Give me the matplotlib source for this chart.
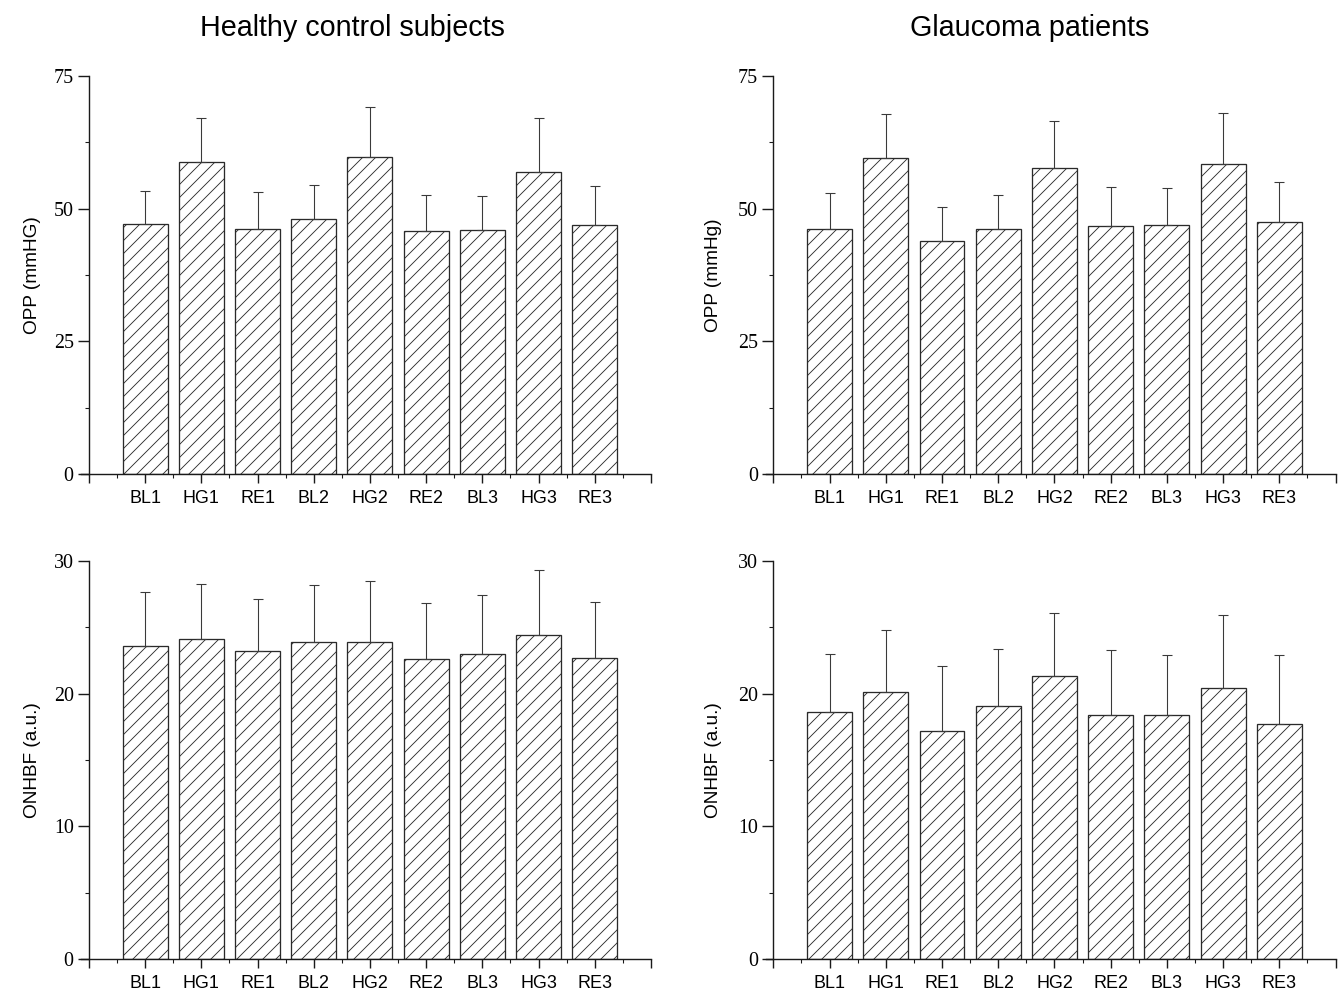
import numpy as np
import matplotlib
matplotlib.use('Agg')
import matplotlib.pyplot as plt
from matplotlib.ticker import MultipleLocator, FixedLocator

# conditions on the x axis
labels = ['BL1', 'HG1', 'RE1', 'BL2', 'HG2', 'RE2', 'BL3', 'HG3', 'RE3']

# OPP, healthy control subjects (mean, sd)
opp_healthy = [47.2, 58.8, 46.1, 48.1, 59.7, 45.8, 45.9, 56.9, 47.0]
opp_healthy_sd = [6.1, 8.2, 7.0, 6.3, 9.5, 6.8, 6.4, 10.1, 7.2]
# OPP, glaucoma patients
opp_glaucoma = [46.2, 59.5, 44.0, 46.1, 57.7, 46.8, 46.9, 58.4, 47.4]
opp_glaucoma_sd = [6.8, 8.4, 6.4, 6.4, 8.9, 7.2, 7.0, 9.7, 7.6]
# ONHBF, healthy control subjects
onhbf_healthy = [23.6, 24.1, 23.2, 23.9, 23.9, 22.6, 23.0, 24.4, 22.7]
onhbf_healthy_sd = [4.1, 4.2, 3.9, 4.3, 4.6, 4.2, 4.4, 4.9, 4.2]
# ONHBF, glaucoma patients
onhbf_glaucoma = [18.6, 20.1, 17.2, 19.1, 21.3, 18.4, 18.4, 20.4, 17.7]
onhbf_glaucoma_sd = [4.4, 4.7, 4.9, 4.3, 4.8, 4.9, 4.5, 5.5, 5.2]

DPI = 78
plt.rcParams['hatch.linewidth'] = 0.8
fig = plt.figure(figsize=(1341 / DPI, 998 / DPI), dpi=DPI)

sans = 'Liberation Sans'
serif = 'Liberation Serif'


def panel(rect, means, sds, ylabel, ymax, major, label_x):
    ax = fig.add_axes(rect)
    x = np.arange(1, len(means) + 1)
    ax.bar(x, means, width=0.8, color='white', edgecolor='#2a2a2a',
           linewidth=1.2, hatch='//', zorder=2)
    # only the upper half of the error bar is shown
    ax.errorbar(x, means, yerr=[np.zeros(len(sds)), sds], fmt='none',
                ecolor='#3a3a3a', elinewidth=1.0, capsize=4.5, capthick=1.0,
                zorder=3)
    ax.set_xlim(-0.14, 10)
    ax.set_ylim(0, ymax)
    ax.spines['top'].set_visible(False)
    ax.spines['right'].set_visible(False)
    ax.spines['left'].set_position(('data', 0))
    for s in ['left', 'bottom']:
        ax.spines[s].set_linewidth(1.3)
        ax.spines[s].set_color('#1a1a1a')

    ax.xaxis.set_major_locator(FixedLocator(np.arange(0, 11)))
    ax.xaxis.set_minor_locator(FixedLocator(np.arange(0.5, 10, 1)))
    ax.set_xticklabels([''] + labels + [''], fontfamily=sans, fontsize=16.5)
    ax.yaxis.set_major_locator(MultipleLocator(major))
    ax.yaxis.set_minor_locator(MultipleLocator(major / 2))
    for lab in ax.get_yticklabels():
        lab.set_fontfamily(serif)
        lab.set_fontsize(18.5)
    ax.tick_params(which='major', direction='out', length=8, width=1.3,
                   color='#1a1a1a')
    ax.tick_params(which='minor', direction='out', length=4, width=1.0,
                   color='#1a1a1a')
    ax.tick_params(axis='y', which='major', length=10, pad=4)
    ax.tick_params(axis='x', which='major', pad=7)

    ax.set_ylabel(ylabel, fontfamily=sans, fontsize=17.5)
    ax.yaxis.set_label_coords(label_x, 0.5)
    return ax


top_b = 1 - 474 / 998
bot_b = 1 - 959 / 998
h = 398 / 998
l_left = 81 / 1341
l_right = 765.5 / 1341
w = 570 / 1341

panel([l_left, top_b, w, h], opp_healthy, opp_healthy_sd, 'OPP (mmHG)', 75, 25, -0.07)
panel([l_right, top_b, w, h], opp_glaucoma, opp_glaucoma_sd, 'OPP (mmHg)', 75, 25, -0.076)
panel([l_left, bot_b, w, h], onhbf_healthy, onhbf_healthy_sd, 'ONHBF (a.u.)', 30, 10, -0.07)
panel([l_right, bot_b, w, h], onhbf_glaucoma, onhbf_glaucoma_sd, 'ONHBF (a.u.)', 30, 10, -0.076)

fig.text(352.5 / 1341, 1 - 28 / 998, 'Healthy control subjects', ha='center',
         va='center', fontfamily=sans, fontsize=26.5)
fig.text(1030 / 1341, 1 - 28 / 998, 'Glaucoma patients', ha='center',
         va='center', fontfamily=sans, fontsize=26.5)

fig.savefig('out.png', dpi=DPI, facecolor='white')
